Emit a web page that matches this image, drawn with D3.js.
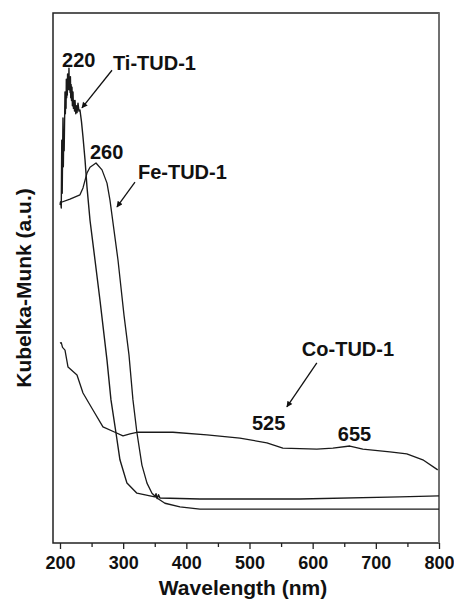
<!DOCTYPE html>
<html>
<head>
<meta charset="utf-8">
<script src="https://cdn.jsdelivr.net/npm/d3@7"></script>
<style>
  body { margin: 0; background: #fff; }
  svg text { font-family: "Liberation Sans", Arial, sans-serif; font-weight: bold; fill: #111; }
</style>
</head>
<body>
<svg id="chart" width="454" height="602"></svg>
<script>
"use strict";

// wavelength (nm), Kubelka-Munk (a.u.)
var tiData = [
  [200, 63.8], [201, 64.4], [202, 63.2], [202.8, 76.0], [203.5, 66], [204.7, 80.2], [205.3, 71],
  [206, 78], [206.6, 74], [207.9, 85.1], [208.5, 81], [209, 84], [209.6, 82], [210, 87.5],
  [210.6, 84], [211, 86], [211.6, 84.5], [212, 88.5], [212.6, 85.5], [213, 87.5], [213.6, 86],
  [214.2, 89.6], [214.7, 85.5], [215.2, 87.5], [216, 85], [216.5, 88], [217, 84], [217.6, 86.5],
  [218.2, 83.5], [219, 86], [219.6, 82.5], [220.6, 85.1], [221.3, 82], [222, 83.5], [223, 81.5],
  [223.8, 83.5], [225, 81], [226, 82.5], [227, 81.2], [228.5, 83.0], [230, 81.5], [231.6, 81.7],
  [234, 79.5], [236.4, 76.6], [239.6, 72.3], [242.7, 67.2], [247.5, 60.9], [255.4, 53.4],
  [263.3, 45.8], [274.4, 34.5], [280.7, 27.0], [288.6, 20.8], [294.9, 15.7], [306, 11.3],
  [321.8, 9.4], [342.4, 8.9], [350, 8.7], [352, 9.3], [354, 8.4], [356, 9.1], [358.2, 8.5],
  [421.5, 8.3], [579.7, 8.3], [738, 8.7], [800, 8.9]
];

var feData = [
  [200, 64.2], [215.8, 64.9], [231.6, 65.7], [236.4, 67.0], [242.7, 69.8], [247.5, 70.9],
  [257, 71.7], [266.5, 70.4], [274.4, 67.9], [279.1, 64.7], [291.8, 53.4], [301.3, 43.0],
  [309.2, 35.5], [315.5, 27.0], [321.8, 20.8], [329.7, 14.7], [337.7, 11.3], [345.6, 9.4],
  [353.5, 8.5], [366.1, 7.5], [389.9, 6.8], [421.5, 6.4], [600, 6.4], [800, 6.4]
];

var coData = [
  [200, 37.7], [202, 37.8], [204, 36.9], [207.9, 36.4], [212.7, 33.2], [226.9, 31.7],
  [236.4, 28.3], [252.2, 25.1], [268, 21.9], [287, 20.9], [299.7, 20.2], [310.8, 20.6],
  [323.4, 20.9], [378.8, 20.9], [432.6, 20.4], [484.8, 19.8], [527.5, 18.9], [552.8, 17.9],
  [606.6, 17.7], [632, 17.9], [658.9, 18.3], [679.4, 17.7], [722.2, 17.2], [749, 16.8],
  [774.4, 15.7], [798, 13.8]
];

var xTicks = [200, 300, 400, 500, 600, 700, 800];
var xMinorTicks = [250, 350, 450, 550, 650, 750];

// annotation text: [label, nm, a.u.]
var labels = [
  ["220", 203.2, 89.8],
  ["Ti-TUD-1", 283.9, 89.2],
  ["260", 247.5, 72.5],
  ["Fe-TUD-1", 323.4, 68.7],
  ["Co-TUD-1", 582.9, 35.3],
  ["525", 503.8, 21.3],
  ["655", 639.9, 19.2]
];

// arrows: [fromNm, fromAu, toNm, toAu]
var arrows = [
  [282.3, 89.2, 234.8, 82.1],
  [318.7, 68.1, 290.2, 63.4],
  [606.6, 34.0, 559.2, 25.7]
];

let svg = d3.select("#chart"),
  frame = {left: 53, right: 439, top: 13, bottom: 543},
  x = d3.scaleLinear().domain([200, 800]).range([60, 439]),
  y = d3.scaleLinear().domain([0, 100]).range([frame.bottom, frame.bottom - 530])
;

svg.append("defs").append("marker")
  .attr("id", "head")
  .attr("viewBox", "0 0 10 10")
  .attr("refX", 9)
  .attr("refY", 5)
  .attr("markerWidth", 8)
  .attr("markerHeight", 6)
  .attr("markerUnits", "userSpaceOnUse")
  .attr("orient", "auto")
  .append("path")
  .attr("d", "M0,0L10,5L0,10z")
  .attr("fill", "#111");

// frame
svg.append("rect")
  .attr("x", frame.left)
  .attr("y", frame.top)
  .attr("width", frame.right - frame.left)
  .attr("height", frame.bottom - frame.top)
  .attr("fill", "none")
  .attr("stroke", "#222")
  .attr("stroke-width", 1.5);

svg.append("line")
  .attr("x1", frame.right).attr("x2", frame.right)
  .attr("y1", frame.top).attr("y2", frame.bottom)
  .attr("stroke", "#777")
  .attr("stroke-width", 1.6);

// x axis
let xAxis = svg.append("g")
  .attr("transform", "translate(0," + frame.bottom + ")")
  .call(d3.axisBottom(x).tickValues(xTicks).tickSize(6).tickPadding(7).tickFormat(d3.format("d")));
xAxis.select(".domain").remove();
xAxis.selectAll(".tick line").attr("stroke", "#222").attr("stroke-width", 1.3);
xAxis.selectAll("text")
  .attr("font-family", "Liberation Sans, Arial, sans-serif")
  .attr("font-weight", "bold")
  .attr("font-size", 18)
  .attr("fill", "#111");

let xMinor = svg.append("g")
  .attr("transform", "translate(0," + frame.bottom + ")")
  .call(d3.axisBottom(x).tickValues(xMinorTicks).tickSize(4).tickFormat(""));
xMinor.select(".domain").remove();
xMinor.selectAll(".tick line").attr("stroke", "#222").attr("stroke-width", 1.3);

svg.append("text")
  .attr("x", 243)
  .attr("y", 595)
  .attr("text-anchor", "middle")
  .attr("font-size", 21)
  .text("Wavelength (nm)");

svg.append("text")
  .attr("transform", "translate(31,288) rotate(-90)")
  .attr("text-anchor", "middle")
  .attr("font-size", 21)
  .text("Kubelka-Munk (a.u.)");

// spectra
let line = d3.line()
  .x(function(d) { return x(d[0]); })
  .y(function(d) { return y(d[1]); });

[[tiData, 1.4], [feData, 1.3], [coData, 1.3]].forEach(function(s) {
  svg.append("path")
    .datum(s[0])
    .attr("d", line)
    .attr("fill", "none")
    .attr("stroke", "#1a1a1a")
    .attr("stroke-width", s[1])
    .attr("stroke-linejoin", "round");
});

// annotations
svg.selectAll(".arrow")
  .data(arrows)
  .enter().append("line")
  .attr("class", "arrow")
  .attr("x1", function(d) { return x(d[0]); })
  .attr("y1", function(d) { return y(d[1]); })
  .attr("x2", function(d) { return x(d[2]); })
  .attr("y2", function(d) { return y(d[3]); })
  .attr("stroke", "#111")
  .attr("stroke-width", 1.3)
  .attr("marker-end", "url(#head)");

svg.selectAll(".label")
  .data(labels)
  .enter().append("text")
  .attr("class", "label")
  .attr("x", function(d) { return x(d[1]); })
  .attr("y", function(d) { return y(d[2]); })
  .attr("font-size", 20)
  .text(function(d) { return d[0]; });
</script>
</body>
</html>
